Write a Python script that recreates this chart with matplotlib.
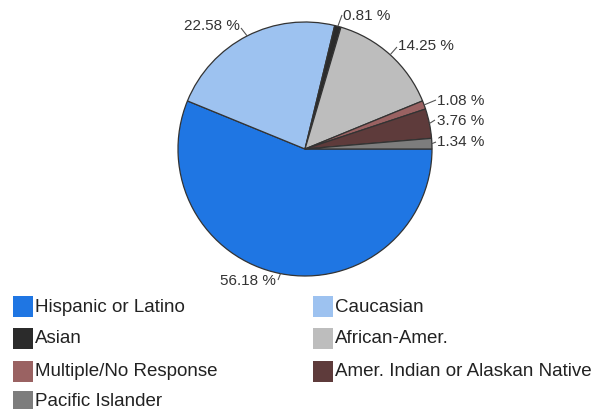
import numpy as np
import matplotlib
matplotlib.use("Agg")
import matplotlib.pyplot as plt
from matplotlib.patches import Rectangle

categories = ["Hispanic or Latino", "Caucasian", "Asian", "African-Amer.",
              "Multiple/No Response", "Amer. Indian or Alaskan Native", "Pacific Islander"]
values = [56.18, 22.58, 0.81, 14.25, 1.08, 3.76, 1.34]
colors = ["#1f76e3", "#9dc2f0", "#2b2b2b", "#bdbdbd", "#9a6262", "#5e3b3b", "#7d7d7d"]

# leader line end (image px, y from top), text anchor x, text y, alignment
label_pos = {
    0: ((278, 281), 276, 281, "right"),
    1: ((241, 29), 240, 26, "right"),
    2: ((342, 16), 343, 16, "left"),
    3: ((397, 48), 398, 46, "left"),
    4: ((436, 101), 437, 101, "left"),
    5: ((435, 121), 437, 121, "left"),
    6: ((436, 143), 437, 142, "left"),
}

W, H = 613, 410
fig = plt.figure(figsize=(W / 100, H / 100), dpi=100)
cx, cy, r = 305, 150, 127
ax = fig.add_axes([(cx - r) / W, 1 - (cy + r) / H, 2 * r / W, 2 * r / H])

wedges, _ = ax.pie(values, colors=colors, startangle=0, counterclock=False, radius=1,
                   wedgeprops=dict(edgecolor="#333333", linewidth=0.9))
ax.set_xlim(-1, 1)
ax.set_ylim(-1, 1)
ax.set_aspect("equal")
ax.axis("off")


def px2data(px, py):
    return (px - cx) / r, (cy - py) / r


for i, w in enumerate(wedges):
    mid = np.deg2rad((w.theta1 + w.theta2) / 2)
    ex, ey = np.cos(mid), np.sin(mid)
    (lx, ly), tx, ty, ha = label_pos[i]
    ldx, ldy = px2data(lx, ly)
    ax.plot([ex, ldx], [ey, ldy], color="#555555", lw=0.8, clip_on=False,
            solid_capstyle="butt")
    tdx, tdy = px2data(tx, ty)
    ax.text(tdx, tdy, f"{values[i]:.2f} %", ha=ha, va="center", fontsize=11,
            color="#333333", family="Liberation Sans", clip_on=False)

# legend (row-major, two columns)
col_x = [13, 313]
row_y = [307.5, 339, 372, 402]
for i, (cat, col) in enumerate(zip(categories, colors)):
    row, c = divmod(i, 2)
    x0 = col_x[c]
    y0 = row_y[row]
    fig.patches.append(Rectangle((x0 / W, (H - y0 - 10.5) / H), 20 / W, 21 / H,
                                 transform=fig.transFigure, facecolor=col,
                                 edgecolor="none"))
    fig.text((x0 + 22) / W, (H - y0) / H, cat, ha="left", va="center",
             fontsize=13.5, color="#222222", family="Liberation Sans")

fig.savefig("out.png", dpi=100)
